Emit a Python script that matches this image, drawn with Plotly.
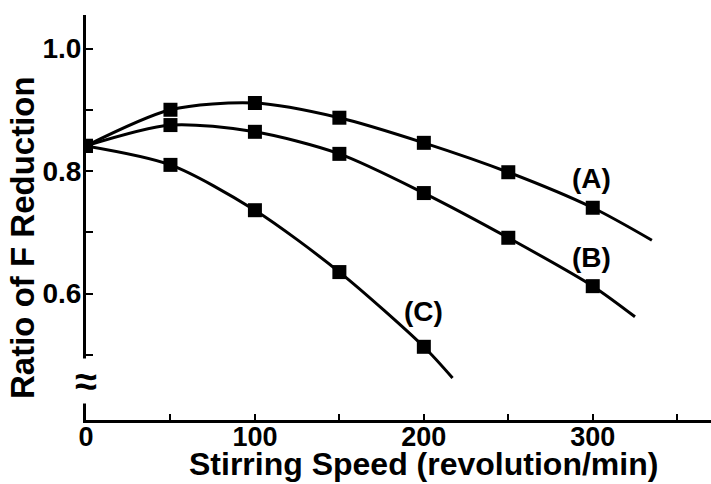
import plotly.graph_objects as go

# measured points
speed = [0, 50, 100, 150, 200, 250, 300]
ratio_A = [0.841, 0.900, 0.911, 0.887, 0.846, 0.798, 0.740]
ratio_B = [0.841, 0.875, 0.864, 0.828, 0.764, 0.691, 0.612]
speed_C = [0, 50, 100, 150, 200]
ratio_C = [0.841, 0.810, 0.736, 0.635, 0.513]

# where each drawn curve ends beyond the last measured point
end_A = (335, 0.687)
end_B = (325, 0.562)
end_C = (217, 0.462)

labels = ["(A)", "(B)", "(C)"]
label_pos = [(299, 0.787), (299, 0.658), (200, 0.570)]

x_ticks = [0, 50, 100, 150, 200, 250, 300, 350]
x_ticktext = ["0", "", "100", "", "200", "", "300", ""]
y_ticks = [0.5, 0.6, 0.7, 0.8, 0.9, 1.0]
y_ticktext = ["", "0.6", "", "0.8", "", "1.0"]

FONT = "Liberation Sans"
fig = go.Figure()

series = [
    (speed, ratio_A, end_A),
    (speed, ratio_B, end_B),
    (speed_C, ratio_C, end_C),
]
for xs, ys, end in series:
    fig.add_trace(go.Scatter(
        x=xs + [end[0]], y=ys + [end[1]], mode="lines",
        line=dict(color="black", width=3, shape="spline", smoothing=0.8),
        showlegend=False, hoverinfo="skip"))
for xs, ys, end in series:
    fig.add_trace(go.Scatter(
        x=xs, y=ys, mode="markers",
        marker=dict(symbol="square", size=14, color="black"),
        showlegend=False))

for txt, (lx, ly) in zip(labels, label_pos):
    fig.add_annotation(x=lx, y=ly, text=txt, showarrow=False,
                       font=dict(family=FONT, size=28, color="black", weight="bold"))

# axis break symbol
fig.add_annotation(x=0, y=0.457, text="≈", showarrow=False, bgcolor="white",
                   borderpad=0, xanchor="center", yanchor="middle",
                   font=dict(family=FONT, size=40, color="black", weight="bold"))

# axis titles
fig.add_annotation(xref="paper", yref="paper", x=(424 - 86) / 625, y=-64 / 405,
                   xanchor="center", yanchor="bottom",
                   text="Stirring Speed (revolution/min)", showarrow=False,
                   font=dict(family=FONT, size=32, color="black", weight="bold"))
fig.add_annotation(xref="paper", yref="paper", x=-64 / 625, y=(420 - 238) / 405,
                   xanchor="center", yanchor="middle",
                   text="Ratio of F Reduction", showarrow=False, textangle=-90,
                   font=dict(family=FONT, size=33, color="black", weight="bold"))

fig.update_layout(
    width=711, height=484,
    margin=dict(l=86, r=0, t=15, b=64),
    paper_bgcolor="white", plot_bgcolor="white",
    xaxis=dict(range=[0, 370], tickvals=x_ticks, ticktext=x_ticktext,
               ticks="inside", ticklen=6, tickwidth=2, tickcolor="black",
               ticklabelstandoff=-9,
               showline=True, linewidth=3, linecolor="black",
               showgrid=False, zeroline=False,
               tickfont=dict(family=FONT, size=27, color="black", weight="bold")),
    yaxis=dict(range=[0.3935, 1.0547], tickvals=y_ticks, ticktext=y_ticktext,
               ticks="inside", ticklen=7, tickwidth=2, tickcolor="black",
               ticklabelstandoff=-4,
               showline=True, linewidth=3, linecolor="black",
               showgrid=False, zeroline=False,
               tickfont=dict(family=FONT, size=28, color="black", weight="bold")),
)

fig.write_html("out.html")
